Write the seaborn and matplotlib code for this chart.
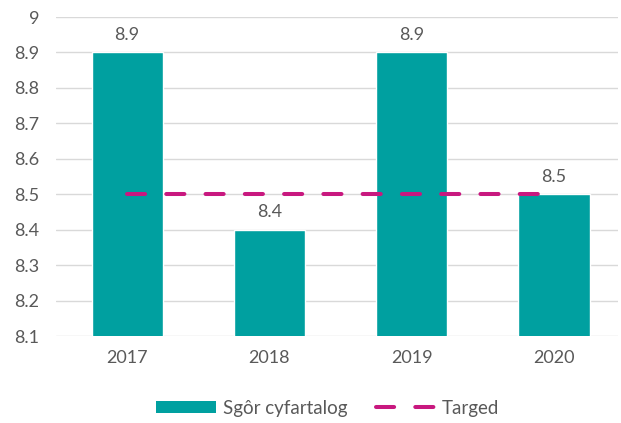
import matplotlib
matplotlib.use("Agg")
import matplotlib.pyplot as plt
import seaborn as sns
import pandas as pd
from matplotlib.patches import Patch
from matplotlib.lines import Line2D

years = ["2017", "2018", "2019", "2020"]
scores = [8.9, 8.4, 8.9, 8.5]
target = [8.5, 8.5, 8.5, 8.5]
yticks = [8.1, 8.2, 8.3, 8.4, 8.5, 8.6, 8.7, 8.8, 8.9, 9.0]
ytick_labels = ["8.1", "8.2", "8.3", "8.4", "8.5", "8.6", "8.7", "8.8", "8.9", "9"]
bar_label = "Sgôr cyfartalog"
line_label = "Targed"

teal = "#00A0A0"
magenta = "#C8187F"
grey = "#595959"

sns.set_theme(style="white")
plt.rcParams["font.family"] = ["Lato", "DejaVu Sans"]

df = pd.DataFrame({"year": years, "score": scores})

fig = plt.figure(figsize=(6.21, 4.23), dpi=100)
ax = fig.add_axes([56/621, 1-336/423, (618-56)/621, (336-17)/423])

sns.barplot(data=df, x="year", y="score", color=teal, saturation=1, width=0.5, ax=ax, zorder=2)
dash = (0, (4.5, 5.25))
ax.plot(range(len(years)), target, color=magenta, lw=2.9, linestyle=dash,
        dash_capstyle="round", zorder=3)

ax.set_ylim(8.1, 9.0)
ax.set_xlim(-0.5, 3.45)
ax.set_yticks(yticks)
ax.set_yticklabels(ytick_labels)
ax.yaxis.grid(True, color="#D9D9D9", lw=1)
ax.set_axisbelow(True)
for s in ax.spines.values():
    s.set_visible(False)
ax.set_xlabel("")
ax.set_ylabel("")
ax.tick_params(axis="y", labelsize=13, labelcolor=grey, length=0, pad=12)
ax.tick_params(axis="x", labelsize=13, labelcolor=grey, length=0, pad=10)

for i, v in enumerate(scores):
    ax.annotate(f"{v:.1f}", (i, v), xytext=(0, 7), textcoords="offset points",
                ha="center", va="bottom", fontsize=13, color=grey)

handles = [Patch(facecolor=teal, edgecolor="none"),
           Line2D([0], [0], color=magenta, lw=2.9, linestyle=dash, dash_capstyle="round")]
fig.legend(handles, [bar_label, line_label], loc="center", bbox_to_anchor=(0.528, 1-408/423),
           ncol=2, frameon=False, fontsize=13.5, labelcolor=grey, handlelength=3.2,
           handleheight=0.55, columnspacing=1.5, handletextpad=0.35)

fig.savefig("out.png", dpi=100)
